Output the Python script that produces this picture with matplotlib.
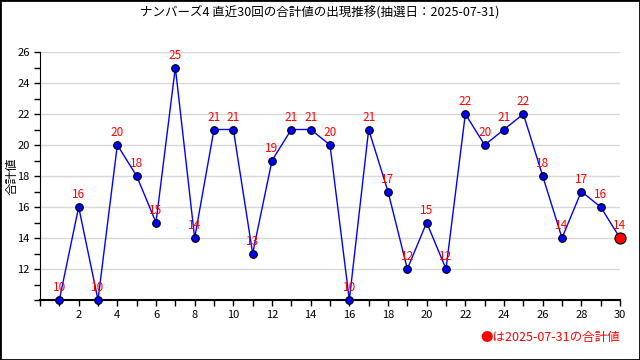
import matplotlib
matplotlib.use('Agg')
import matplotlib.pyplot as plt
from matplotlib.ticker import MultipleLocator

plt.rcParams['font.family'] = ['Noto Sans CJK JP', 'DejaVu Sans']

# 直近30回の合計値
kai = list(range(1, 31))
goukei = [10, 16, 10, 20, 18, 15, 25, 14, 21, 21, 13, 19, 21, 21, 20,
          10, 21, 17, 12, 15, 12, 22, 20, 21, 22, 18, 14, 17, 16, 14]
title = 'ナンバーズ4 直近30回の合計値の出現推移(抽選日：2025-07-31)'
note = '●は2025-07-31の合計値'

fig = plt.figure(figsize=(6.4, 3.6), dpi=100)
ax = fig.add_axes([40/640, 60/360, 580/640, 248/360])

ax.plot(kai, goukei, color='#0000ff', lw=1, zorder=3, clip_on=False)
ax.plot(kai[:-1], goukei[:-1], 'o', ms=5.5, mfc='#0000ff', mec='black', mew=0.8,
        zorder=4, clip_on=False)
ax.plot(kai[-1:], goukei[-1:], 'o', ms=8, mfc='#ff0000', mec='black', mew=0.8,
        zorder=5, clip_on=False)

for x, y in zip(kai, goukei):
    ax.annotate(str(y), (x, y), xytext=(0, 4), textcoords='offset points',
                ha='center', va='bottom', color='#ff0000', fontsize=8.5, zorder=6)

ax.set_xlim(0, 30)
ax.set_ylim(10, 26)
ax.xaxis.set_minor_locator(MultipleLocator(1))
ax.yaxis.set_minor_locator(MultipleLocator(1))
ax.set_yticks([12, 14, 16, 18, 20, 22, 24, 26])
ax.set_xticks(range(2, 31, 2))
ax.tick_params(axis='both', which='both', direction='out', labelsize=8, width=1, length=4)
ax.grid(axis='y', color='#d8d8d8', lw=1)
ax.set_axisbelow(True)
for s in ['top', 'right']:
    ax.spines[s].set_visible(False)
ax.spines['bottom'].set_linewidth(1.5)

fig.text(12/640, 1 - 176/360, '合計値', rotation=90, ha='center', va='center', fontsize=9)

fig.text(0.5, 1 - 12/360, title, ha='center', va='center', fontsize=9)
fig.text(620/640, 1 - 337/360, note, ha='right', va='center', fontsize=9, color='#ff0000')

fig.patches.append(plt.Rectangle((0, 0), 1, 1, transform=fig.transFigure,
                                 fill=False, edgecolor='black', lw=2))

fig.savefig('out.png', dpi=100)
